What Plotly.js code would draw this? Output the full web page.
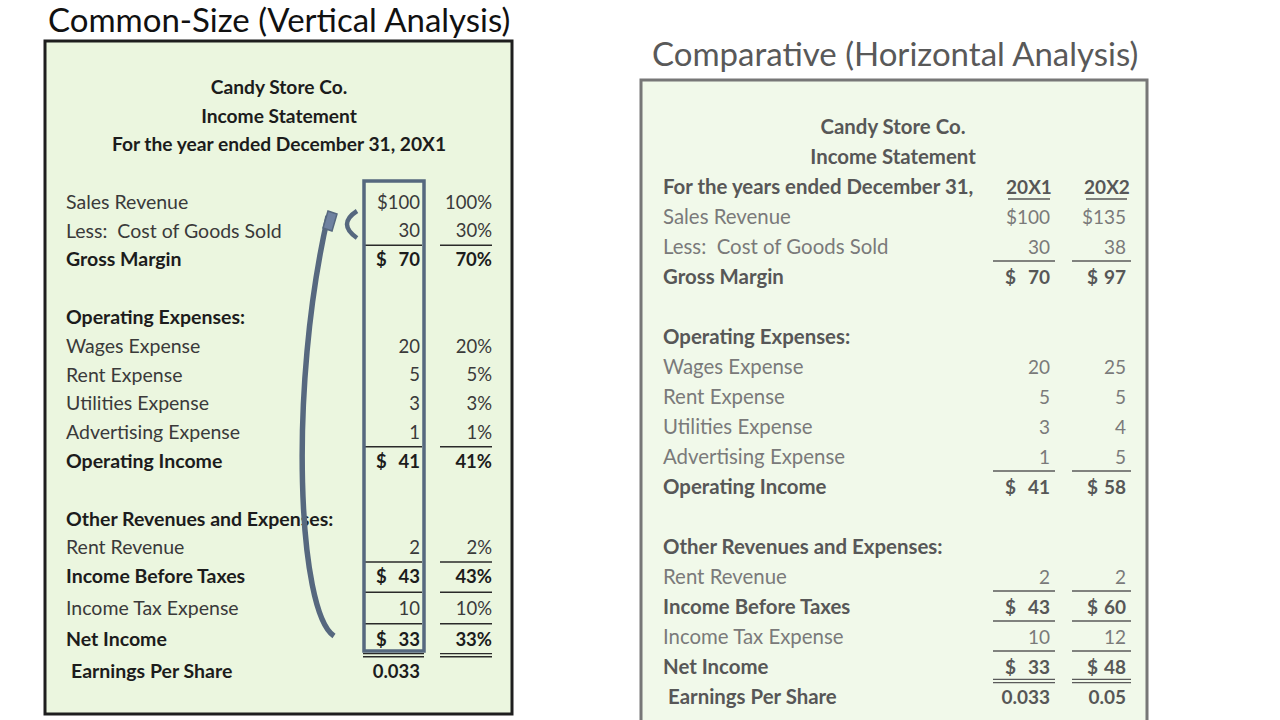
<!DOCTYPE html>
<html><head><meta charset="utf-8">
<script src="https://cdn.plot.ly/plotly-3.0.1.min.js"></script>
<style>html,body{margin:0;padding:0;background:#fff;}#chart{width:1280px;height:720px;}</style>
</head><body><div id="chart"></div>
<script>
// ---------- data ----------
const rowLabels = ["Sales Revenue","Less:\u00a0 Cost of Goods Sold","Gross Margin","","Operating Expenses:","Wages Expense","Rent Expense","Utilities Expense","Advertising Expense","Operating Income","","Other Revenues and Expenses:","Rent Revenue","Income Before Taxes","Income Tax Expense","Net Income","Earnings Per Share"];
const boldRows = [2,4,9,11,13,15,16];
const totalRows = [2,9,13,15];
const amounts20X1 = [100,30,70,null,null,20,5,3,1,41,null,null,2,43,10,33,0.033];
const amounts20X2 = [135,38,97,null,null,25,5,4,5,58,null,null,2,60,12,48,0.05];
const commonSizePct = [100,30,70,null,null,20,5,3,1,41,null,null,2,43,10,33,null];
const underlineAfter = [1,8,12,13,14];
const doubleUnderlineAfter = [15];
const years = ["20X1","20X2"];
const companyName = "Candy Store Co.";
const statementName = "Income Statement";
const leftPeriod = "For the year ended December 31, 20X1";
const rightPeriod = "For the years ended December 31,";
const leftTitle = "Common-Size (Vertical Analysis)";
const rightTitle = "Comparative (Horizontal Analysis)";

// ---------- layout helpers ----------
const FONT = "Lato, 'Open Sans', sans-serif";
const TDY = 2;
const yL = i => 202 + i*28.8 + (i>=14 ? (i-13)*2.7 : 0);
const yR = i => 217 + i*30;
const tyL = i => yL(i) + TDY;
const tyR = i => yR(i) + TDY;
const isBold = i => boldRows.includes(i);

function textTrace(xs, ys, texts, pos, size, color, bold){
  return {type:'scatter', mode:'text', x:xs, y:ys, text:texts, textposition:pos,
    marker:{size:1, opacity:0}, hoverinfo:'skip', showlegend:false,
    textfont:{family:FONT, size:size, color:color, weight: bold?700:400}};
}
function rowsTrace(idx, xFn, yFn, txtFn, pos, size, color, bold){
  const xs=[],ys=[],ts=[];
  idx.forEach(i=>{const t=txtFn(i); if(t!==null&&t!==""){xs.push(xFn(i));ys.push(yFn(i));ts.push(t);}});
  return textTrace(xs,ys,ts,pos,size,color,bold);
}
function fmtAmount(v,i){
  if(v===null) return null;
  if(i===0) return "$"+v;
  return String(v);
}
const allIdx = rowLabels.map((_,i)=>i);
const normIdx = allIdx.filter(i=>!isBold(i));
const boldIdx = allIdx.filter(i=>isBold(i));

const traces = [];
const shapes = [];
const annotations = [];

// ----- Left panel -----
const LS = 19.5, LV = 18.5, LN = '#3a3a3a', LB = '#1c1c1c';
shapes.push({type:'rect', xref:'x', yref:'y', x0:45, x1:512, y0:41, y1:714, fillcolor:'#ebf6df', line:{color:'#1e1e1e', width:3}, layer:'below'});
traces.push(textTrace([279,279,279],[87+TDY,116+TDY,144+TDY],[companyName,statementName,leftPeriod],'middle center',19.2,LB,true));
traces.push(rowsTrace(normIdx, i=>66, tyL, i=>rowLabels[i], 'middle right', LS, LN, false));
traces.push(rowsTrace(boldIdx, i=>i===16?71:66, tyL, i=>rowLabels[i], 'middle right', LS, LB, true));
traces.push(rowsTrace(normIdx, i=>420, tyL, i=>fmtAmount(amounts20X1[i],i), 'middle left', LV, LN, false));
traces.push(rowsTrace(boldIdx, i=>420, tyL, i=>fmtAmount(amounts20X1[i],i), 'middle left', LV, LB, true));
traces.push(rowsTrace(totalRows, i=>376, tyL, i=>"$", 'middle right', LV, LB, true));
traces.push(rowsTrace(normIdx, i=>492, tyL, i=>commonSizePct[i]===null?null:commonSizePct[i]+"%", 'middle left', LV, LN, false));
traces.push(rowsTrace(boldIdx, i=>492, tyL, i=>commonSizePct[i]===null?null:commonSizePct[i]+"%", 'middle left', LV, LB, true));
underlineAfter.forEach(i=>{
  const y=(yL(i)+yL(i+1))/2;
  shapes.push({type:'line',xref:'x',yref:'y',x0:365,x1:422,y0:y,y1:y,line:{color:'#2a2a2a',width:1.5}});
  shapes.push({type:'line',xref:'x',yref:'y',x0:440,x1:492,y0:y,y1:y,line:{color:'#2a2a2a',width:1.5}});
});
doubleUnderlineAfter.forEach(i=>{
  const y=(yL(i)+yL(i+1))/2;
  [-1.6,1.6].forEach(d=>{
    shapes.push({type:'line',xref:'x',yref:'y',x0:363,x1:424,y0:y+d,y1:y+d,line:{color:'#2a2a2a',width:1.3}});
    shapes.push({type:'line',xref:'x',yref:'y',x0:440,x1:492,y0:y+d,y1:y+d,line:{color:'#2a2a2a',width:1.3}});
  });
});
// highlight box and curved arrow
const BLUE = '#56687f';
shapes.push({type:'rect',xref:'x',yref:'y',x0:364,x1:424,y0:181,y1:651,line:{color:BLUE,width:3.5}});
shapes.push({type:'path',xref:'x',yref:'y',path:'M 334 636 C 298 612, 288 390, 328 216',line:{color:BLUE,width:5.5}});
shapes.push({type:'path',xref:'x',yref:'y',path:'M 323 228 L 328 211 L 337 214 L 332 231 Z',fillcolor:'#6f82a0',line:{color:BLUE,width:1.5}});
shapes.push({type:'path',xref:'x',yref:'y',path:'M 357 211 Q 337 224 357 238',line:{color:BLUE,width:4.5}});

// ----- Right panel -----
const RS = 20.4, RV = 19, RN = '#7a7a7a', RB = '#575757';
shapes.push({type:'rect', xref:'x', yref:'y', x0:641, x1:1147, y0:80, y1:726, fillcolor:'#f1f9ea', line:{color:'#777777', width:3}, layer:'below'});
traces.push(textTrace([893,893],[127+TDY,157+TDY],[companyName,statementName],'middle center',RS,RB,true));
traces.push(textTrace([663],[187+TDY],[rightPeriod],'middle right',RS,RB,true));
traces.push(textTrace([1029,1107],[187+TDY,187+TDY],years,'middle center',RV,RB,true));
shapes.push({type:'line',xref:'x',yref:'y',x0:1008,x1:1050,y0:199,y1:199,line:{color:RB,width:1.3}});
shapes.push({type:'line',xref:'x',yref:'y',x0:1086,x1:1127,y0:199,y1:199,line:{color:RB,width:1.3}});
traces.push(rowsTrace(normIdx, i=>663, tyR, i=>rowLabels[i], 'middle right', RS, RN, false));
traces.push(rowsTrace(boldIdx, i=>i===16?668:663, tyR, i=>rowLabels[i], 'middle right', RS, RB, true));
[[amounts20X1,1050,1005],[amounts20X2,1126,1087]].forEach(([arr,xr,xd])=>{
  traces.push(rowsTrace(normIdx, i=>xr, tyR, i=>fmtAmount(arr[i],i), 'middle left', RV, RN, false));
  traces.push(rowsTrace(boldIdx, i=>xr, tyR, i=>fmtAmount(arr[i],i), 'middle left', RV, RB, true));
  traces.push(rowsTrace(totalRows, i=>xd, tyR, i=>"$", 'middle right', RV, RB, true));
});
underlineAfter.forEach(i=>{
  const y=(yR(i)+yR(i+1))/2-1;
  shapes.push({type:'line',xref:'x',yref:'y',x0:993,x1:1055,y0:y,y1:y,line:{color:'#5a5a5a',width:1.5}});
  shapes.push({type:'line',xref:'x',yref:'y',x0:1072,x1:1131,y0:y,y1:y,line:{color:'#5a5a5a',width:1.5}});
});
doubleUnderlineAfter.forEach(i=>{
  const y=(yR(i)+yR(i+1))/2-1;
  [-1.6,1.6].forEach(d=>{
    shapes.push({type:'line',xref:'x',yref:'y',x0:993,x1:1055,y0:y+d,y1:y+d,line:{color:'#5a5a5a',width:1.3}});
    shapes.push({type:'line',xref:'x',yref:'y',x0:1072,x1:1131,y0:y+d,y1:y+d,line:{color:'#5a5a5a',width:1.3}});
  });
});

// ----- slide titles -----
annotations.push({xref:'x',yref:'y',x:46,y:19,text:leftTitle,showarrow:false,xanchor:'left',yanchor:'middle',font:{family:FONT,size:33,color:'#111111'}});
annotations.push({xref:'x',yref:'y',x:650,y:53,text:rightTitle,showarrow:false,xanchor:'left',yanchor:'middle',font:{family:FONT,size:33,color:'#595959'}});

const layout = {
  width:1280, height:720, margin:{l:0,r:0,t:0,b:0},
  paper_bgcolor:'#ffffff', plot_bgcolor:'#ffffff',
  xaxis:{range:[0,1280], visible:false, fixedrange:true},
  yaxis:{range:[720,0], visible:false, fixedrange:true},
  shapes:shapes, annotations:annotations, showlegend:false
};
Plotly.newPlot('chart', traces, layout, {staticPlot:true, displayModeBar:false});
</script>
</body></html>
